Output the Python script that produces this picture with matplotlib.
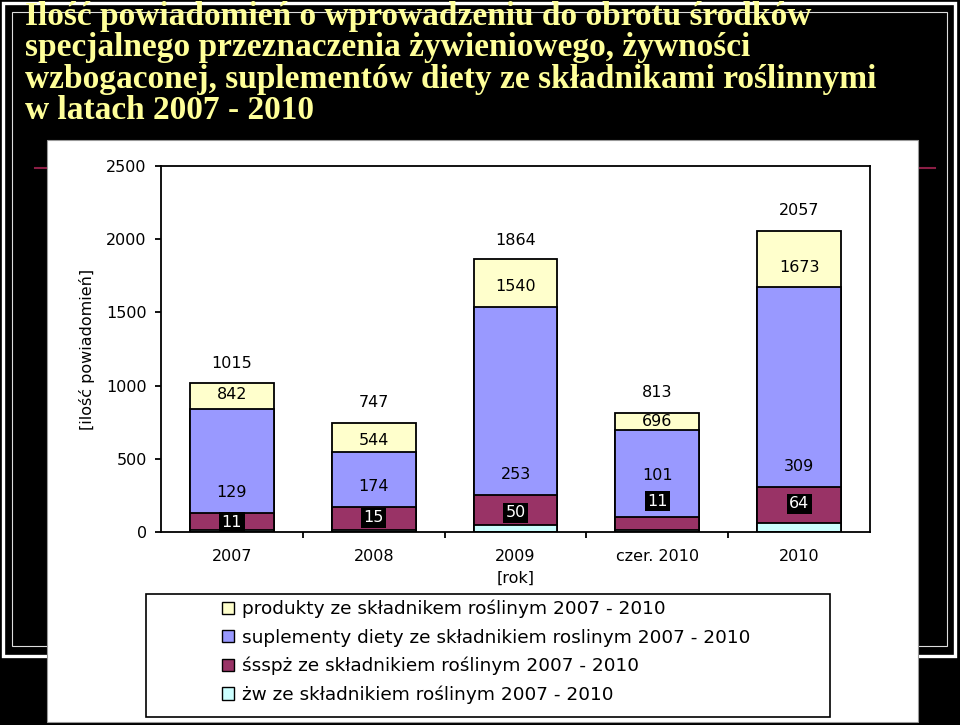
import matplotlib.pyplot as plt
from matplotlib.patches import Rectangle, Patch

# Rozmiar obrazka w pikselach
W, H = 960, 725

# Dane (wartości z etykiet na słupkach)
lata = ["2007", "2008", "2009", "czer. 2010", "2010"]
produkty = [1015, 747, 1864, 813, 2057]
suplementy = [842, 544, 1540, 696, 1673]
ssspz = [129, 174, 253, 101, 309]
zw = [11, 15, 50, 11, 64]

nazwy = ["produkty ze składnikem roślinym 2007 - 2010",
         "suplementy diety ze składnikiem roslinym 2007 - 2010",
         "śsspż ze składnikiem roślinym 2007 - 2010",
         "żw ze składnikiem roślinym 2007 - 2010"]
kolory = ["#FFFFCC", "#9999FF", "#993366", "#CCFFFF"]

# Przesunięcia etykiet nad wierzchołkiem słupka (px)
przes = [[20, 20, 19, 20, 20],
         [14, 12, 20, 9, 20],
         [21, 20, 20, 42, 20],
         [8, 12, 12, 29, 19]]

tytul = ["Ilość powiadomień o wprowadzeniu do obrotu środków",
         "specjalnego przeznaczenia żywieniowego, żywności",
         "wzbogaconej, suplementów diety ze składnikami roślinnymi",
         "w latach 2007 - 2010"]


def fx(px):
    return px / W


def fy(py):
    return 1 - py / H


fig = plt.figure(figsize=(W / 100, H / 100), dpi=100, facecolor="black")

# Ramka slajdu
fig.add_artist(Rectangle((fx(3), fy(656)), fx(955) - fx(3), fy(3) - fy(656),
                         transform=fig.transFigure, fill=False, ec="white", lw=2.4, zorder=1))
fig.add_artist(Rectangle((fx(12), fy(646)), fx(947) - fx(12), fy(12) - fy(646),
                         transform=fig.transFigure, fill=False, ec="#DDDDDD", lw=0.8, zorder=1))
fig.add_artist(plt.Line2D([fx(35), fx(935)], [fy(168), fy(168)],
                          transform=fig.transFigure, color="#8B1E45", lw=1.5, zorder=1))

# Biały panel wykresu
fig.add_artist(Rectangle((fx(47), fy(722)), fx(918) - fx(47), fy(140) - fy(722),
                         transform=fig.transFigure, fc="white", ec="#999999", lw=0.8, zorder=2))

# Tytuł
baz = [25, 56, 88, 119]
for t, b in zip(tytul, baz):
    fig.text(fx(25), fy(b), t, color="#FFFF99", fontsize=24, fontweight="bold",
             family="Liberation Serif", va="baseline", ha="left", zorder=3)

ax = fig.add_axes([fx(161), fy(532), fx(870) - fx(161), fy(166) - fy(532)])
ax.set_zorder(5)
ax.set_facecolor("white")

x = list(range(len(lata)))
serie = [produkty, suplementy, ssspz, zw]
for s, kol, dy, nr in zip(serie, kolory, przes, range(4)):
    ax.bar(x, s, width=0.59, color=kol, edgecolor="black", linewidth=1.3)
    for i, v in enumerate(s):
        if nr == 3:
            ax.annotate(str(v), (i, v), xytext=(0, dy[i] * 0.72), textcoords="offset points",
                        ha="center", va="center", fontsize=11.5, color="white",
                        bbox=dict(boxstyle="square,pad=0.15", fc="black", ec="none"),
                        annotation_clip=False)
        else:
            ax.annotate(str(v), (i, v), xytext=(0, dy[i] * 0.72), textcoords="offset points",
                        ha="center", va="center", fontsize=11.5, color="black",
                        annotation_clip=False)

ax.set_xlim(-0.5, 4.5)
ax.set_ylim(0, 2500)
ax.set_yticks(range(0, 2501, 500))
ax.set_xticks(x, lata)
ax.set_xticks([0.5, 1.5, 2.5, 3.5], minor=True)
ax.tick_params(axis="x", which="major", length=0, pad=12, labelsize=11.5)
ax.tick_params(axis="x", which="minor", length=4, width=1.3, direction="out")
ax.tick_params(axis="y", length=4.3, width=1.3, pad=6, labelsize=11.5)
for sp in ax.spines.values():
    sp.set_linewidth(1.3)

ax.set_xlabel("[rok]", fontsize=11.5, labelpad=5)
ax.set_ylabel("[ilość powiadomień]", fontsize=11.5, labelpad=8)

# Legenda
fig.add_artist(Rectangle((fx(146), fy(717)), fx(830) - fx(146), fy(594) - fy(717),
                         transform=fig.transFigure, fill=False, ec="black", lw=1.2, zorder=6))
uchwyty = [Patch(fc=k, ec="black", lw=1.0) for k in kolory]
leg = fig.legend(uchwyty, nazwy, loc="upper left", bbox_to_anchor=(fx(222), fy(600)),
                 frameon=False, fontsize=13.3, handlelength=0.65, handleheight=0.65,
                 handletextpad=0.45, labelspacing=0.55, borderpad=0, borderaxespad=0)
leg.set_zorder(7)

fig.savefig("out.png", dpi=100, facecolor="black")
